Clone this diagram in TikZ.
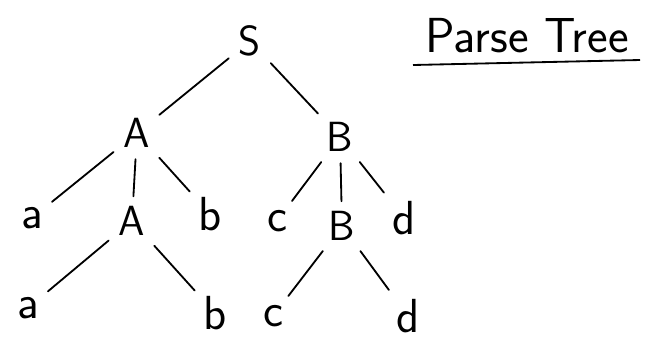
\documentclass[tikz,border=0pt]{standalone}
\begin{document}
\begin{tikzpicture}[x=0.025cm,y=-0.025cm,
  nt/.style={font=\sffamily\fontsize{30}{36}\selectfont, inner sep=4pt},
  tm/.style={font=\sffamily\fontsize{34}{40}\selectfont, inner sep=4pt},
  br/.style={line width=1.3pt, line cap=round, shorten <=4pt, shorten >=3pt}]
  \useasboundingbox (0,0) rectangle (648,345);
  \node[nt] (S) at (250,41) {S};
  \node[nt] (A1) at (137,133) {A};
  \node[nt] (B1) at (340,137) {B};
  \node[tm] (a1) at (32,218) {a};
  \node[nt] (A2) at (132,221) {A};
  \node[tm] (b1) at (210,214) {b};
  \node[tm] (c1) at (277,221) {c};
  \node[nt] (B2) at (342,226) {B};
  \node[tm] (d1) at (404,218) {d};
  \node[tm] (a2) at (28,308) {a};
  \node[tm] (b2) at (215,313) {b};
  \node[tm] (c2) at (273,316) {c};
  \node[tm] (d2) at (408,316) {d};
  \node[font=\sffamily\fontsize{35}{40}\selectfont] (title) at (527,36) {Parse Tree};
  \draw[line width=1.3pt] (413,65) -- (640,60);
  \draw[br] (S) -- (A1);
  \draw[br] (S) -- (B1);
  \draw[br] (A1) -- (a1);
  \draw[br] (A1) -- (A2);
  \draw[br] (A1) -- (b1);
  \draw[br] (B1) -- (c1);
  \draw[br] (B1) -- (B2);
  \draw[br] (B1) -- (d1);
  \draw[br] (A2) -- (a2);
  \draw[br] (A2) -- (b2);
  \draw[br] (B2) -- (c2);
  \draw[br] (B2) -- (d2);
\end{tikzpicture}
\end{document}
